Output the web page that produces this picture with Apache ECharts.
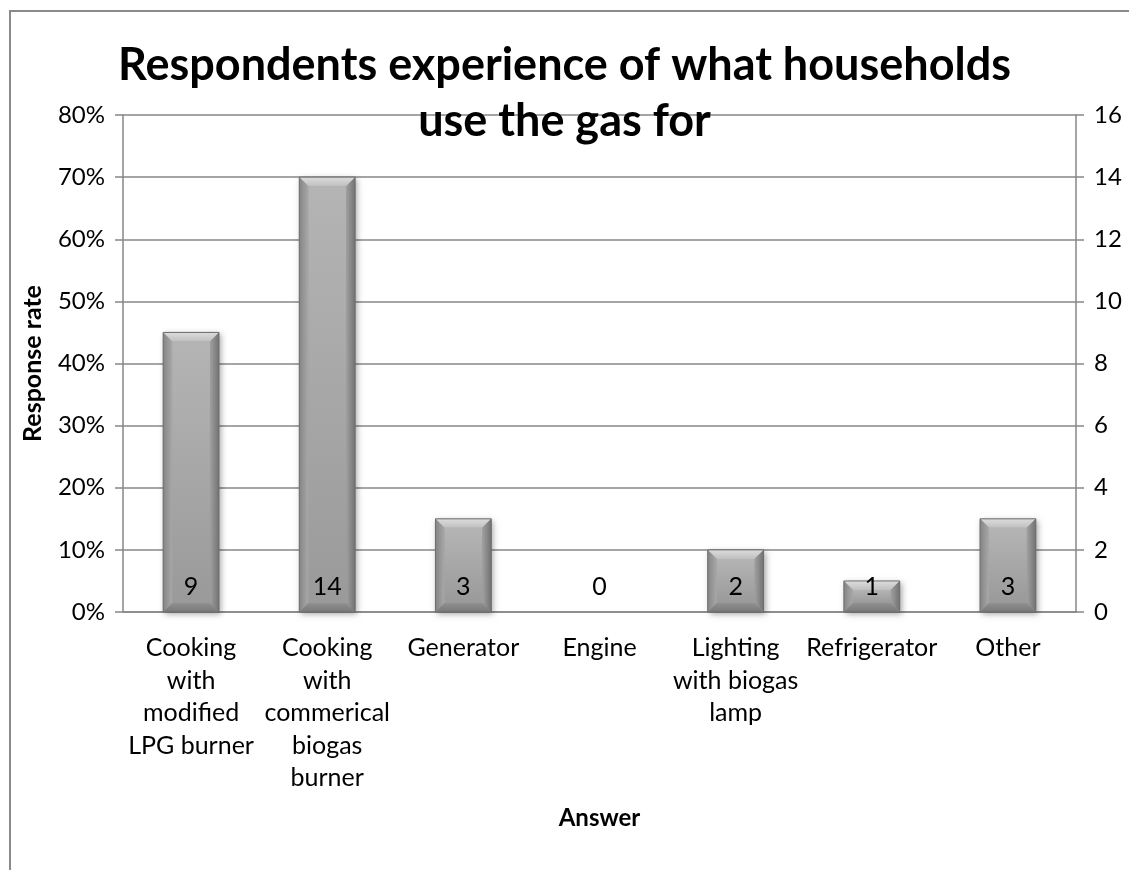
<!DOCTYPE html>
<html>
<head>
<meta charset="utf-8">
<script src="https://cdn.jsdelivr.net/npm/echarts@6/dist/echarts.min.js"></script>
<style>
  html, body { margin: 0; padding: 0; background: #fff; }
  #chart { width: 1129px; height: 870px; }
</style>
</head>
<body>
<div id="chart"></div>
<script>
// Survey answers: what households use the biogas for
const categories = [
  'Cooking\nwith\nmodified\nLPG burner',
  'Cooking\nwith\ncommerical\nbiogas\nburner',
  'Generator',
  'Engine',
  'Lighting\nwith biogas\nlamp',
  'Refrigerator',
  'Other'
];
// Number of respondents giving each answer
const counts = [9, 14, 3, 0, 2, 1, 3];
// Left axis (response rate, %) and right axis (count) ranges
const rateAxis = { min: 0, max: 80, interval: 10 };
const countAxis = { min: 0, max: 16, interval: 2 };

const FONT = 'Lato';
const GRID_COLOR = '#878787';

const chart = echarts.init(document.getElementById('chart'), null, { renderer: 'canvas' });

// Bevelled grey column, drawn from the category/value coordinates
function renderBevelBar(params, api) {
  const idx = api.value(0);
  const val = api.value(1);
  const top = api.coord([idx, val]);
  const base = api.coord([idx, 0]);
  const bw = api.size([1, 0])[0] * 0.41;
  const x0 = top[0] - bw / 2, x1 = x0 + bw;
  const y0 = top[1], y1 = base[1];
  const h = y1 - y0;
  const children = [];
  if (h > 0.5) {
    const b = Math.min(9, h / 2);
    children.push({
      type: 'rect',
      shape: { x: x0, y: y0, width: bw, height: h },
      style: {
        fill: '#9c9c9c',
        shadowBlur: 6, shadowOffsetX: 2, shadowOffsetY: 2,
        shadowColor: 'rgba(0,0,0,0.35)'
      }
    });
    // front face
    children.push({
      type: 'rect',
      shape: { x: x0 + b, y: y0 + b, width: bw - 2 * b, height: h - 2 * b },
      style: {
        fill: new echarts.graphic.LinearGradient(0, 0, 0, 1, [
          { offset: 0, color: '#b4b4b4' },
          { offset: 1, color: '#9a9a9a' }
        ])
      }
    });
    // top bevel
    children.push({
      type: 'polygon',
      shape: { points: [[x0, y0], [x1, y0], [x1 - b, y0 + b], [x0 + b, y0 + b]] },
      style: {
        fill: new echarts.graphic.LinearGradient(0, 0, 0, 1, [
          { offset: 0, color: '#dcdcdc' },
          { offset: 1, color: '#c0c0c0' }
        ])
      }
    });
    // left bevel
    children.push({
      type: 'polygon',
      shape: { points: [[x0, y0], [x0 + b, y0 + b], [x0 + b, y1 - b], [x0, y1]] },
      style: {
        fill: new echarts.graphic.LinearGradient(0, 0, 1, 0, [
          { offset: 0, color: '#858585' },
          { offset: 1, color: '#a8a8a8' }
        ])
      }
    });
    // right bevel
    children.push({
      type: 'polygon',
      shape: { points: [[x1, y0], [x1, y1], [x1 - b, y1 - b], [x1 - b, y0 + b]] },
      style: {
        fill: new echarts.graphic.LinearGradient(0, 0, 1, 0, [
          { offset: 0, color: '#a0a0a0' },
          { offset: 1, color: '#727272' }
        ])
      }
    });
    // bottom bevel
    children.push({
      type: 'polygon',
      shape: { points: [[x0, y1], [x0 + b, y1 - b], [x1 - b, y1 - b], [x1, y1]] },
      style: {
        fill: new echarts.graphic.LinearGradient(0, 0, 0, 1, [
          { offset: 0, color: '#909090' },
          { offset: 1, color: '#787878' }
        ])
      }
    });
    // thin outline
    children.push({
      type: 'rect',
      shape: { x: x0, y: y0, width: bw, height: h },
      style: { fill: 'none', stroke: '#6e6e6e', lineWidth: 1 }
    });
  }
  // count label near the base of the column
  children.push({
    type: 'text',
    style: {
      text: String(val),
      x: top[0], y: y1 - 25,
      align: 'center', verticalAlign: 'middle',
      font: '25px ' + FONT,
      fill: '#000'
    }
  });
  return { type: 'group', children: children };
}

const option = {
  backgroundColor: '#fff',
  textStyle: { fontFamily: FONT },
  animation: false,
  title: {
    text: 'Respondents experience of what households\nuse the gas for',
    left: 'center',
    top: 32,
    textStyle: {
      fontFamily: FONT, fontSize: 45, fontWeight: 'bold',
      color: '#000', lineHeight: 56
    }
  },
  graphic: [{
    type: 'rect',
    shape: { x: 10, y: 11, width: 1200, height: 1000 },
    style: { fill: 'none', stroke: '#8a8a8a', lineWidth: 2 },
    z: -10
  }],
  grid: { left: 123, right: 53, top: 115, bottom: 258, containLabel: false },
  xAxis: {
    type: 'category',
    data: categories,
    name: 'Answer',
    nameLocation: 'middle',
    nameGap: 194,
    nameTextStyle: { fontFamily: FONT, fontSize: 24, fontWeight: 'bold', color: '#000' },
    axisLine: { lineStyle: { color: GRID_COLOR, width: 1.5 } },
    axisTick: { show: false },
    axisLabel: {
      interval: 0, margin: 20,
      fontFamily: FONT, fontSize: 25, color: '#000', lineHeight: 32.5,
      align: 'center', verticalAlign: 'top'
    }
  },
  yAxis: [{
    type: 'value',
    position: 'left',
    min: rateAxis.min, max: rateAxis.max, interval: rateAxis.interval,
    name: 'Response rate',
    nameLocation: 'middle',
    nameGap: 78,
    nameRotate: 90,
    nameTextStyle: { fontFamily: FONT, fontSize: 25, fontWeight: 'bold', color: '#000' },
    axisLine: { show: true, lineStyle: { color: GRID_COLOR, width: 1.5 } },
    axisTick: { show: true, length: 8, lineStyle: { color: GRID_COLOR, width: 1.5 } },
    axisLabel: { formatter: '{value}%', margin: 18, fontFamily: FONT, fontSize: 24, color: '#000' },
    splitLine: { show: true, lineStyle: { color: GRID_COLOR, width: 1.5 } }
  }, {
    type: 'value',
    position: 'right',
    min: countAxis.min, max: countAxis.max, interval: countAxis.interval,
    axisLine: { show: true, lineStyle: { color: GRID_COLOR, width: 1.5 } },
    axisTick: { show: true, length: 8, lineStyle: { color: GRID_COLOR, width: 1.5 } },
    axisLabel: { margin: 18, fontFamily: FONT, fontSize: 24, color: '#000' },
    splitLine: { show: false }
  }],
  series: [{
    type: 'custom',
    name: 'Respondents',
    yAxisIndex: 1,
    renderItem: renderBevelBar,
    encode: { x: 0, y: 1 },
    data: counts.map((c, i) => [i, c]),
    z: 5
  }]
};

chart.setOption(option);
</script>
</body>
</html>
